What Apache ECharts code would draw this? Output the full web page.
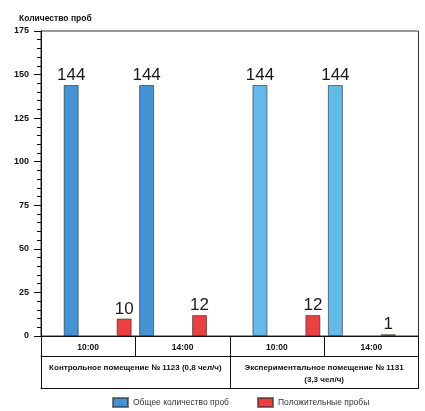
<!DOCTYPE html>
<html lang="ru">
<head>
    <meta charset="UTF-8">
    <title>Количество проб</title>
    <style>
        html, body { margin: 0; padding: 0; background: #fff; }
    </style>
</head>
<body>
<div id="main" style="width: 425px; height: 411px;"></div>
<script src="https://cdn.jsdelivr.net/npm/echarts@6/dist/echarts.min.js"></script>
<script type="text/javascript">
    // данные
    var timeLabels = ['10:00', '14:00', '10:00', '14:00'];
    var roomLabels = ['Контрольное помещение № 1123 (0,8 чел/ч)', 'Экспериментальное помещение № 1131\n(3,3 чел/ч)'];
    var totalAt10 = [144, 144];
    var positiveAt10 = [10, 12];
    var totalAt14 = [144, 144];
    var positiveAt14 = [12, 1];
    var yTicks = [0, 25, 50, 75, 100, 125, 150, 175];

    var blueDark = '#4592d4';
    var blueLight = '#64b9e9';
    var redColor = '#ea4042';
    var labelFont = 'Liberation Sans';

    var chart = echarts.init(document.getElementById('main'));

    // синие столбцы второго помещения светлее
    var blueData = function (vals) {
        var res = [];
        for (var i = 0; i < vals.length; i++) {
            res.push({value: vals[i], itemStyle: {color: i === 0 ? blueDark : blueLight}});
        }
        return res;
    };

    var valueLabel = {
        show: true,
        position: 'top',
        distance: 1,
        color: '#1a1a1a',
        fontSize: 17,
        fontFamily: '"Liberation Sans Narrow", "Liberation Sans", sans-serif'
    };

    var barSeries = function (name, data, color) {
        return {
            name: name,
            type: 'bar',
            xAxisIndex: 1,
            barWidth: 15,
            barGap: '50%',
            data: data,
            itemStyle: {color: color, borderColor: 'rgba(40,40,40,0.6)', borderWidth: 1},
            label: valueLabel,
            emphasis: {disabled: true}
        };
    };
    // пустая серия — только промежуток между столбцами
    var spacer = function () {
        return {type: 'bar', xAxisIndex: 1, barWidth: 20.3, data: [], silent: true};
    };

    var option = {
        animation: false,
        backgroundColor: '#fff',
        title: {
            text: 'Количество проб',
            left: 14,
            top: 9,
            textStyle: {fontSize: 8.5, fontWeight: 'bold', color: '#111', fontFamily: labelFont}
        },
        legend: {
            data: ['Общее количество проб', 'Положительные пробы'],
            left: 112,
            top: 397,
            padding: 0,
            icon: 'rect',
            itemWidth: 15,
            itemHeight: 9,
            itemGap: 28,
            textStyle: {fontSize: 8.5, color: '#333', fontFamily: labelFont},
            selectedMode: false
        },
        grid: {
            left: 41,
            right: 6.5,
            top: 31,
            bottom: 75,
            show: true,
            borderColor: '#333',
            borderWidth: 1,
            containLabel: false
        },
        xAxis: [
            {
                type: 'category',
                data: timeLabels,
                position: 'bottom',
                axisLine: {lineStyle: {color: '#111', width: 1}},
                axisTick: {show: true, interval: 0, length: 20, lineStyle: {color: '#111'}},
                axisLabel: {interval: 0, margin: 7, fontSize: 8.5, fontWeight: 'bold', color: '#111', fontFamily: labelFont}
            },
            {
                type: 'category',
                data: roomLabels,
                position: 'bottom',
                offset: 20,
                axisLine: {lineStyle: {color: '#111', width: 1}},
                axisTick: {show: true, interval: 0, length: 32, lineStyle: {color: '#111'}},
                axisLabel: {interval: 0, margin: 6, fontSize: 8, fontWeight: 'bold', color: '#111', lineHeight: 12, fontFamily: labelFont}
            },
            {
                type: 'category',
                data: roomLabels,
                position: 'bottom',
                offset: 52,
                axisLine: {lineStyle: {color: '#111', width: 1}},
                axisTick: {show: false},
                axisLabel: {show: false}
            }
        ],
        yAxis: {
            type: 'value',
            min: yTicks[0],
            max: yTicks[yTicks.length - 1],
            interval: 25,
            axisLine: {show: true, lineStyle: {color: '#111'}},
            axisTick: {show: true, length: 7, lineStyle: {color: '#111'}},
            minorTick: {show: true, splitNumber: 5, length: 4, lineStyle: {color: '#111'}},
            splitLine: {show: false},
            axisLabel: {margin: 12, fontSize: 9, fontWeight: 'bold', color: '#111', fontFamily: labelFont}
        },
        series: [
            barSeries('Общее количество проб', blueData(totalAt10), blueDark),
            spacer(),
            barSeries('Положительные пробы', positiveAt10, redColor),
            barSeries('Общее количество проб', blueData(totalAt14), blueDark),
            spacer(),
            barSeries('Положительные пробы', positiveAt14, redColor)
        ]
    };
    chart.setOption(option);
</script>
</body>
</html>
